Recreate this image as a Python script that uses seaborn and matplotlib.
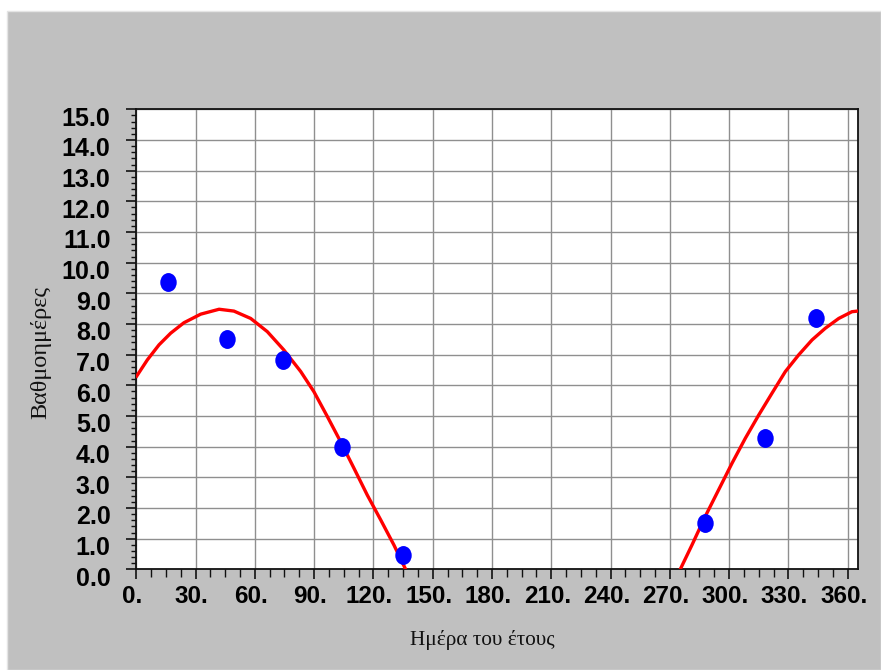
import numpy as np
import pandas as pd
import matplotlib
matplotlib.use("Agg")
import matplotlib.pyplot as plt
import matplotlib.transforms as mtransforms
from matplotlib.patches import Rectangle
from matplotlib.path import Path
from matplotlib.ticker import MultipleLocator, FixedLocator, FixedFormatter
import seaborn as sns

# Observed degree-days by day of year
obs_day = [16, 46, 74, 104, 135, 288, 318, 344]
obs_value = [9.38, 7.51, 6.82, 3.98, 0.46, 1.50, 4.28, 8.18]

# Fitted curve, spring branch (down to zero)
fit_day_spring = [0.2, 5.6, 11.5, 17.4, 24.1, 32.6, 41.9, 49.4, 57.9, 66.3,
                  74.7, 83.2, 89.9, 96.7, 103.4, 110.2, 116.9, 123.7, 130.4, 136.3]
fit_value_spring = [6.30, 6.83, 7.32, 7.70, 8.04, 8.32, 8.48, 8.42, 8.18, 7.75,
                    7.15, 6.45, 5.79, 4.98, 4.16, 3.29, 2.42, 1.61, 0.79, 0.0]

# Fitted curve, autumn branch (up from zero)
fit_day_autumn = [275.3, 281.2, 287.9, 294.7, 301.5, 308.2, 315.0, 321.7,
                  328.5, 335.2, 342.0, 348.7, 355.5, 362.2, 365.0]
fit_value_autumn = [0.0, 0.79, 1.72, 2.59, 3.46, 4.27, 5.03, 5.74,
                    6.45, 6.99, 7.48, 7.86, 8.18, 8.40, 8.42]

x_ticks = [0, 30, 60, 90, 120, 150, 180, 210, 240, 270, 300, 330, 360]
x_tick_labels = ["0.", "30.", "60.", "90.", "120.", "150.", "180.", "210.",
                 "240.", "270.", "300.", "330.", "360."]
y_ticks = list(range(0, 16))
y_tick_labels = [f"{v:.1f}" for v in y_ticks]

x_label = "Ημέρα του έτους"
y_label = "Βαθμοημέρες"

W, H = 881, 670
fig = plt.figure(figsize=(W / 100, H / 100), dpi=100)
fig.patch.set_facecolor("white")

# grey panel behind the chart
fig.patches.append(Rectangle((7 / W, 0), 1 - 7 / W, 1 - 11 / H,
                             transform=fig.transFigure, facecolor="#c0c0c0",
                             edgecolor="#e4e4e4", lw=1.0, zorder=-5))

left, right, top, bottom = 136.3, 858.3, 109.3, 569.3
ax = fig.add_axes([left / W, 1 - bottom / H, (right - left) / W, (bottom - top) / H])
ax.set_zorder(2)
ax.set_facecolor("white")

curve = pd.DataFrame({
    "day": fit_day_spring + fit_day_autumn,
    "value": fit_value_spring + fit_value_autumn,
    "segment": ["spring"] * len(fit_day_spring) + ["autumn"] * len(fit_day_autumn),
})
sns.lineplot(data=curve, x="day", y="value", units="segment", estimator=None,
             sort=False, color="#ff0000", lw=2.4, ax=ax, zorder=3)

ellipse = Path(Path.unit_circle().vertices * np.array([1.0, 1.15]),
               Path.unit_circle().codes)
obs = pd.DataFrame({"day": obs_day, "value": obs_value})
sns.scatterplot(data=obs, x="day", y="value", color="#0000ff", marker=ellipse,
                s=185, linewidth=0, ax=ax, zorder=4)

ax.set_xlim(0, 365.4)
ax.set_ylim(0, 15)
ax.xaxis.set_major_locator(FixedLocator(x_ticks))
ax.xaxis.set_major_formatter(FixedFormatter(x_tick_labels))
ax.xaxis.set_minor_locator(MultipleLocator(7.5))
ax.yaxis.set_major_locator(FixedLocator(y_ticks))
ax.yaxis.set_major_formatter(FixedFormatter(y_tick_labels))
ax.yaxis.set_minor_locator(MultipleLocator(0.2))

ax.grid(True, which="major", color="#8f8f8f", lw=1.0)
ax.set_axisbelow(True)
for sp in ax.spines.values():
    sp.set_color("#111111")
    sp.set_linewidth(1.3)

ax.tick_params(axis="both", which="major", direction="out", length=7.5,
               width=1.2, color="#111111")
ax.tick_params(axis="x", which="minor", direction="out", length=5.5,
               width=1.0, color="#111111")
ax.tick_params(axis="y", which="minor", direction="out", length=3.8,
               width=1.0, color="#111111")
ax.tick_params(axis="x", which="major", pad=4)
ax.tick_params(axis="y", which="major", pad=11)

xshift = mtransforms.ScaledTranslation(-4 / 100, 0, fig.dpi_scale_trans)
for lab in ax.get_xticklabels():
    lab.set_fontfamily("Liberation Sans")
    lab.set_fontweight("bold")
    lab.set_fontsize(17.5)
    lab.set_transform(lab.get_transform() + xshift)
yshift = mtransforms.ScaledTranslation(0, -7 / 100, fig.dpi_scale_trans)
for lab in ax.get_yticklabels():
    lab.set_fontfamily("Liberation Sans")
    lab.set_fontweight("bold")
    lab.set_fontsize(18)
    lab.set_transform(lab.get_transform() + yshift)

ax.set_xlabel("")
ax.set_ylabel("")
fig.text(482.5 / W, 1 - 640 / H, x_label, ha="center", va="center",
         fontfamily="Liberation Serif", fontsize=15.3, color="#111111")
fig.text(41 / W, 1 - 352.5 / H, y_label, ha="center", va="center", rotation=90,
         fontfamily="Liberation Serif", fontsize=17.5, color="#111111")

fig.savefig("out.png", dpi=100)
